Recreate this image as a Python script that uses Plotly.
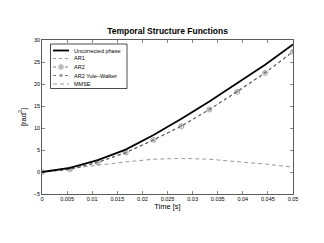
import plotly.graph_objects as go

# ---- data ----
time_s = [0.0, 0.005556, 0.011111, 0.016667, 0.022222, 0.027778, 0.033333, 0.038889, 0.044444, 0.05]
uncorrected = [0.0, 0.95, 2.7, 5.1, 8.4, 12.1, 16.0, 20.1, 24.4, 29.0]
ar1 = [0.0, 0.6, 2.2, 4.4, 7.3, 10.4, 14.2, 18.2, 22.5, 27.3]
ar2 = [0.0, 0.6, 2.2, 4.4, 7.3, 10.4, 14.2, 18.2, 22.5, 27.3]
ar2_yw = [0.0, 0.6, 2.2, 4.4, 7.3, 10.5, 14.2, 18.3, 22.6, 27.4]
mmse = [0.0, 0.8, 1.6, 2.3, 2.9, 3.1, 2.9, 2.4, 1.8, 1.1]
x_ticks = [0, 0.005, 0.01, 0.015, 0.02, 0.025, 0.03, 0.035, 0.04, 0.045, 0.05]
x_tick_text = ["0", "0.005", "0.01", "0.015", "0.02", "0.025", "0.03", "0.035", "0.04", "0.045", "0.05"]
y_ticks = [-5, 0, 5, 10, 15, 20, 25, 30]

FONT = "Liberation Sans, Arial, sans-serif"
W, H = 324, 243
L, R, T, B = 42, 31, 40, 49

fig = go.Figure()
fig.add_trace(go.Scatter(x=time_s, y=mmse, mode="lines", name="MMSE",
                         line=dict(color="#808080", width=0.8, dash="4px,3px")))
fig.add_trace(go.Scatter(x=time_s, y=ar1, mode="lines", name="AR1",
                         line=dict(color="#808080", width=0.8, dash="dot")))
fig.add_trace(go.Scatter(x=time_s, y=ar2, mode="lines+markers", name="AR2",
                         line=dict(color="#555555", width=0.8, dash="3px,3px"),
                         marker=dict(symbol="circle-open", size=5, color="#777777", line=dict(width=0.6))))
fig.add_trace(go.Scatter(x=time_s, y=ar2_yw, mode="lines+markers", name="AR2 Yule-Walker",
                         line=dict(color="#555555", width=0.8, dash="3px,3px"),
                         marker=dict(symbol="asterisk-open", size=3.5, color="#777777", line=dict(width=0.5))))
fig.add_trace(go.Scatter(x=time_s, y=uncorrected, mode="lines", name="Uncorrected phase",
                         line=dict(color="black", width=1.8)))
for tr in fig.data:
    tr.showlegend = False

# ---- hand-made compact legend (paper coords) ----
pw, ph = W - L - R, H - T - B
def px(x):
    return (x - L) / pw
def py(y):
    return (H - B - y) / ph

shapes = [dict(type="rect", xref="paper", yref="paper",
               x0=px(50.5), x1=px(127), y0=py(88.5), y1=py(44),
               line=dict(color="black", width=0.7), fillcolor="white", layer="above")]
annotations = []
entries = [
    ("Uncorrected phase", "black", 1.8, "solid", None),
    ("AR1", "#808080", 0.8, "dot", None),
    ("AR2", "#555555", 0.8, "3px,3px", "circle"),
    ("AR2 Yule\u2013Walker", "#555555", 0.8, "3px,3px", "star"),
    ("MMSE", "#808080", 0.8, "4px,3px", None),
]
rows = [50.5, 58.5, 67, 75.5, 84]

def glyph_line(cx, cy, dx0, dy0, dx1, dy1):
    return dict(type="line", xref="paper", yref="paper", xsizemode="pixel", ysizemode="pixel",
                xanchor=cx, yanchor=cy, x0=dx0, x1=dx1, y0=dy0, y1=dy1,
                line=dict(color="#666666", width=0.6), layer="above")

for (name, col, wdt, dsh, sym), ry in zip(entries, rows):
    shapes.append(dict(type="line", xref="paper", yref="paper",
                       x0=px(53), x1=px(69), y0=py(ry), y1=py(ry),
                       line=dict(color=col, width=wdt, dash=dsh), layer="above"))
    cx, cy = px(61), py(ry)
    if sym == "circle":
        shapes.append(dict(type="circle", xref="paper", yref="paper", xsizemode="pixel",
                           ysizemode="pixel", xanchor=cx, yanchor=cy, x0=-2.3, x1=2.3,
                           y0=-2.3, y1=2.3, fillcolor="white",
                           line=dict(color="#666666", width=0.6), layer="above"))
        shapes.append(glyph_line(cx, cy, -1.6, 0, 1.6, 0))
        shapes.append(glyph_line(cx, cy, 0, -1.6, 0, 1.6))
    elif sym == "star":
        shapes.append(dict(type="rect", xref="paper", yref="paper", xsizemode="pixel",
                           ysizemode="pixel", xanchor=cx, yanchor=cy, x0=-2, x1=2,
                           y0=-2, y1=2, fillcolor="white", line=dict(width=0), layer="above"))
        shapes.append(glyph_line(cx, cy, -1.8, 0, 1.8, 0))
        shapes.append(glyph_line(cx, cy, -1.3, -1.3, 1.3, 1.3))
        shapes.append(glyph_line(cx, cy, -1.3, 1.3, 1.3, -1.3))
        shapes.append(glyph_line(cx, cy, 0, -1.8, 0, 1.8))
    annotations.append(dict(x=px(72), y=py(ry), xref="paper", yref="paper", text=name,
                            showarrow=False, xanchor="left", yanchor="middle",
                            font=dict(size=5.5, color="black", family=FONT)))

axis_common = dict(showgrid=False, zeroline=False, showline=True, linecolor="#333333",
                   linewidth=0.8, mirror="ticks", ticks="inside", ticklen=3,
                   tickcolor="#333333", tickwidth=0.6,
                   tickfont=dict(size=5.5, color="black", family=FONT))

fig.update_layout(
    width=W, height=H,
    margin=dict(l=L, r=R, t=T, b=B),
    paper_bgcolor="white", plot_bgcolor="white",
    showlegend=False,
    title=dict(text="<b>Temporal Structure Functions</b>", x=0.5, xref="paper",
               xanchor="center", y=1 - 31.5 / H, yref="container", yanchor="middle",
               font=dict(size=8.5, color="black", family=FONT)),
    xaxis=dict(range=[0, 0.05], tickvals=x_ticks, ticktext=x_tick_text,
               title=dict(text="Time [s]", standoff=2,
                          font=dict(size=7.5, color="black", family=FONT)),
               **axis_common),
    yaxis=dict(range=[-5, 30], tickvals=y_ticks,
               title=dict(text="[rad<sup>2</sup>]", standoff=6,
                          font=dict(size=7.5, color="black", family=FONT)),
               **axis_common),
    shapes=shapes, annotations=annotations,
)

fig.write_html("out.html", config={"displayModeBar": False, "staticPlot": True},
               post_script="document.body.style.margin='0px';document.body.style.overflow='hidden';")
